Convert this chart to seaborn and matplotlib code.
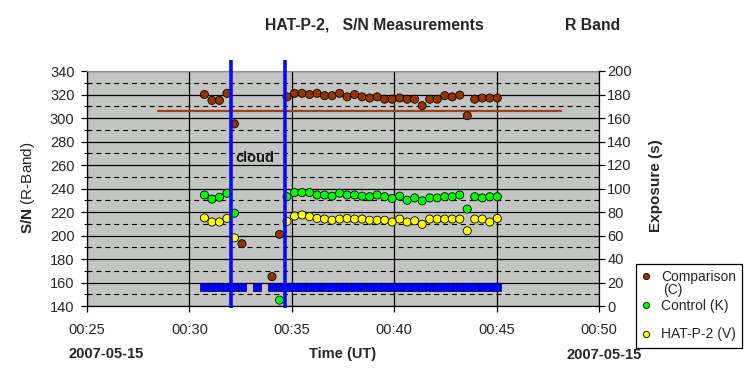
import matplotlib
matplotlib.use("Agg")
import matplotlib.pyplot as plt
from matplotlib.lines import Line2D
from matplotlib.ticker import MultipleLocator, FixedLocator
import seaborn as sns
import pandas as pd
import numpy as np

# ---------------- data ----------------
times = ["00:30:44", "00:31:06", "00:31:28", "00:31:50", "00:32:12", "00:32:34",
         "00:32:56", "00:33:18", "00:33:40", "00:34:02", "00:34:24", "00:34:46",
         "00:35:08", "00:35:30", "00:35:52", "00:36:14", "00:36:36", "00:36:58",
         "00:37:20", "00:37:42", "00:38:04", "00:38:26", "00:38:48", "00:39:10",
         "00:39:32", "00:39:54", "00:40:16", "00:40:38", "00:41:00", "00:41:22",
         "00:41:44", "00:42:06", "00:42:28", "00:42:50", "00:43:12", "00:43:34",
         "00:43:56", "00:44:18", "00:44:40", "00:45:02"]
nan = np.nan
comparison = [320, 315, 315, 321, 295, 193, nan, nan, nan, 165, 201, 318,
              321, 321, 320, 321, 319, 319, 321, 318, 320, 318, 317, 318,
              316, 316, 317, 316, 316, 310.5, 316, 316, 319, 318, 319.5, 302,
              316, 317, 317, 317]
control = [234.5, 231, 232.5, 236, 219, nan, nan, nan, nan, nan, 145, 233,
           236.5, 236.5, 236.5, 234.5, 234.5, 233.5, 236, 234.5, 234.5, 233.5, 233, 234.5,
           233, 231.5, 233.5, 230, 232, 229.5, 232, 232, 233, 233, 234.5, 222.5,
           233, 232, 233, 233]
hatp2 = [215, 211.5, 211.5, 214.5, 198, nan, nan, nan, nan, nan, nan, 212,
         216.5, 217.5, 216, 214.5, 214, 213, 214, 214.5, 214, 214, 213, 213,
         213, 211.5, 214, 211.5, 212.5, 209.5, 214, 214, 214, 214, 214, 204,
         214, 214, 211.5, 214.5]
exposure = [16, 16, 16, 16, 16, 16, nan, 16, nan, 16, 16, 16,
            16, 16, 16, 16, 16, 16, 16, 16, 16, 16, 16, 16,
            16, 16, 16, 16, 16, 16, 16, 16, 16, 16, 16, 16,
            16, 16, 16, 16]

series_names = ["Comparison", "Control (K)", "HAT-P-2 (V)"]
series_colors = ["#993300", "#00FF00", "#FFFF00"]

cloud_times = ["00:32:01", "00:34:40"]
ref_line_times = ["00:28:29", "00:48:10"]
ref_line_value = 306

x_ticks = ["00:25", "00:30", "00:35", "00:40", "00:45", "00:50"]
date_label = "2007-05-15"


def to_min(s):
    parts = [int(p) for p in s.split(":")]
    if len(parts) == 2:
        parts.append(0)
    h, m, sec = parts
    return h * 60 + m + sec / 60.0


t = [to_min(s) for s in times]
df = pd.DataFrame({
    "t": t * 3,
    "sn": comparison + control + hatp2,
    "series": [series_names[0]] * len(t) + [series_names[1]] * len(t) + [series_names[2]] * len(t),
}).dropna()
dfe = pd.DataFrame({"t": t, "exp": exposure}).dropna()

# ---------------- style ----------------
sns.set_theme(style="white")
plt.rcParams["font.family"] = ["Liberation Sans", "DejaVu Sans"]
plt.rcParams["mathtext.fontset"] = "custom"
plt.rcParams["mathtext.rm"] = "Liberation Sans"
plt.rcParams["mathtext.bf"] = "Liberation Sans:bold"

W, H = 750, 385
fig = plt.figure(figsize=(7.5, 3.85), dpi=100)
fig.patch.set_facecolor("white")
ax = fig.add_axes([87 / W, 1 - 306 / H, 512 / W, 235 / H])
ax.set_facecolor("#C2C5C2")

xt = [to_min(s) for s in x_ticks]
ax.set_xlim(xt[0], xt[-1])
ax.set_ylim(140, 340)
ax.yaxis.set_major_locator(MultipleLocator(20))
ax.yaxis.set_minor_locator(MultipleLocator(10))
ax.xaxis.set_major_locator(FixedLocator(xt))
ax.set_xticklabels(x_ticks)
ax.set_axisbelow(True)
ax.grid(True, which="major", axis="y", color="black", lw=0.9, ls="-")
ax.grid(True, which="minor", axis="y", color="black", lw=0.8, ls=(0, (4.5, 3.5)))
ax.grid(True, which="major", axis="x", color="black", lw=0.9, ls="-")

for sp in ["left", "bottom"]:
    ax.spines[sp].set_color("black")
    ax.spines[sp].set_linewidth(0.9)
ax.spines["top"].set_color("#909090")
ax.spines["top"].set_linewidth(0.9)
ax.spines["right"].set_visible(False)

ax.tick_params(axis="y", which="major", direction="out", length=4, width=0.9,
               color="black", pad=5, labelsize=10.5, left=True)
ax.tick_params(axis="y", which="minor", direction="inout", length=4, width=0.8,
               color="black", left=True)
ax.tick_params(axis="x", which="major", direction="out", length=4, width=0.9,
               color="black", pad=8, labelsize=10.5, bottom=True)

# reference line
ax.plot([to_min(s) for s in ref_line_times], [ref_line_value] * 2,
        color="#A0401A", lw=1.6, zorder=2)

# data points
sns.scatterplot(data=df, x="t", y="sn", hue="series", palette=series_colors,
                hue_order=series_names, s=34, edgecolor="black", linewidth=0.6,
                legend=False, ax=ax, zorder=3)
ax.set_xlabel("")
ax.set_ylabel("")

# exposure on secondary axis
ax2 = ax.twinx()
ax2.set_ylim(0, 200)
ax2.yaxis.set_major_locator(MultipleLocator(20))
sns.scatterplot(data=dfe, x="t", y="exp", marker="s", color="#0000FF", s=30,
                edgecolor="#000060", linewidth=0.5, legend=False, ax=ax2, zorder=4)
ax2.set_xlabel("")
ax2.set_ylabel("")
ax2.set_xlim(xt[0], xt[-1])
for sp in ["left", "top", "bottom"]:
    ax2.spines[sp].set_visible(False)
ax2.spines["right"].set_color("black")
ax2.spines["right"].set_linewidth(0.9)
ax2.tick_params(axis="y", direction="out", length=4, width=0.9, color="black",
                pad=2, labelsize=10.5, right=True)

# cloud boundaries
for ct in cloud_times:
    ax2.plot([to_min(ct)] * 2, [-0.009, 1.047], transform=ax2.get_xaxis_transform(),
             color="#0A0AF5", lw=2.6, clip_on=False, zorder=5, solid_capstyle="butt")
ax.text(to_min("00:32:14"), 266, "cloud", fontsize=10.5, fontweight="bold",
        color="#151515", va="center", ha="left", zorder=6)

# texts
fig.text(265 / W, 1 - 25 / H, "HAT-P-2,   S/N Measurements", fontsize=11.3,
         fontweight="bold", ha="left", va="center")
fig.text(565 / W, 1 - 25 / H, "R Band", fontsize=11.3, fontweight="bold",
         ha="left", va="center")
fig.text(28 / W, 1 - 188 / H, r"$\bf{S/N}$ (R-Band)", fontsize=11, rotation=90,
         ha="center", va="center")
fig.text(656 / W, 1 - 186 / H, "Exposure (s)", fontsize=11, fontweight="bold",
         rotation=90, ha="center", va="center")
fig.text(343 / W, 1 - 354 / H, "Time (UT)", fontsize=10.5, fontweight="bold",
         ha="center", va="center")
fig.text(106 / W, 1 - 354 / H, date_label, fontsize=10.5, fontweight="bold",
         ha="center", va="center")
fig.text(604 / W, 1 - 355 / H, date_label, fontsize=10.5, fontweight="bold",
         ha="center", va="center", zorder=10)

# legend
handles = [Line2D([], [], ls="none", marker="o", markersize=4.5, markerfacecolor=c,
                  markeredgecolor="black", markeredgewidth=0.6) for c in series_colors]
leg = fig.legend(handles, series_names, loc="upper left",
                 bbox_to_anchor=(636 / W, 1 - 264 / H), frameon=True, fancybox=False,
                 edgecolor="black", fontsize=10, handlelength=0.6, handletextpad=0.75,
                 labelspacing=1.05, borderpad=0.45, borderaxespad=0, framealpha=1)
leg.get_frame().set_linewidth(0.9)
fig.text(663 / W, 1 - 290 / H, "(C)", fontsize=10, ha="left", va="center", zorder=10)

fig.savefig("out.png", dpi=100)
